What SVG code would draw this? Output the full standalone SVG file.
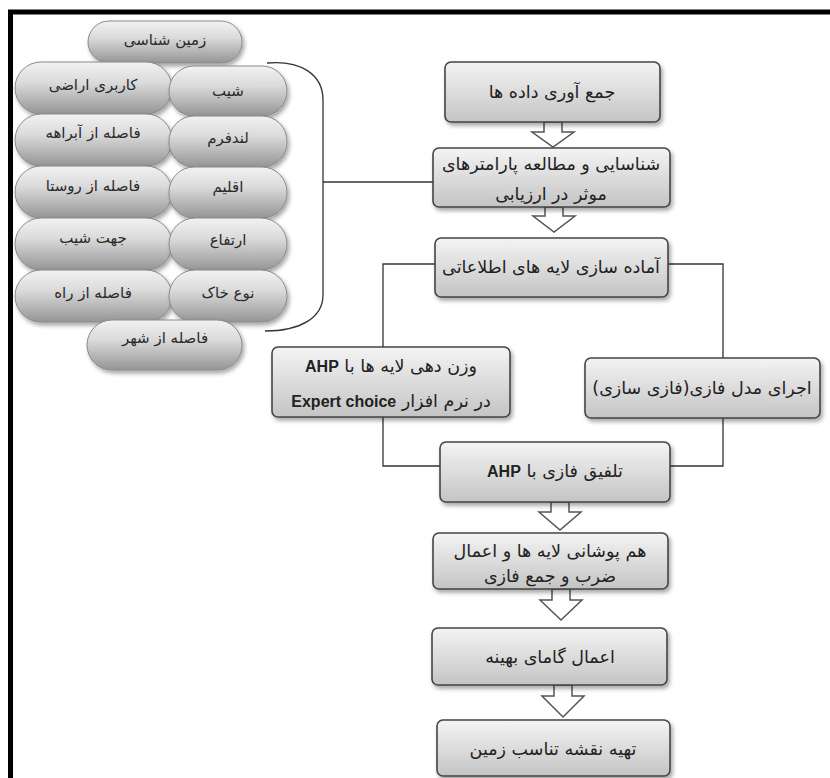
<svg xmlns="http://www.w3.org/2000/svg" width="830" height="778" viewBox="0 0 830 778">
<defs>
<linearGradient id="gBox" x1="0" y1="0" x2="0" y2="1">
<stop offset="0" stop-color="#f4f4f4"/>
<stop offset="1" stop-color="#c4c4c4"/>
</linearGradient>
<linearGradient id="gPill" x1="0" y1="0" x2="0" y2="1">
<stop offset="0" stop-color="#f2f2f2"/>
<stop offset="0.4" stop-color="#dadada"/>
<stop offset="1" stop-color="#959595"/>
</linearGradient>
<filter id="sh" x="-10%" y="-10%" width="130%" height="140%">
<feDropShadow dx="2" dy="3" stdDeviation="2" flood-color="#000" flood-opacity="0.35"/>
</filter>
</defs>
<style>
.box{fill:url(#gBox);stroke:#444;stroke-width:1.6;filter:url(#sh)}
.pill{fill:url(#gPill);stroke:#8a8a8a;stroke-width:1;filter:url(#sh)}
.t{font-family:"DejaVu Sans",sans-serif;font-size:17.5px;fill:#222;text-anchor:middle;direction:rtl}
.tp{font-family:"DejaVu Sans",sans-serif;font-size:15px;fill:#2a2a2a;text-anchor:middle;direction:rtl}
.b{font-family:"Liberation Sans",sans-serif;font-weight:bold;font-size:16px}
.ln{fill:none;stroke:#333;stroke-width:1.3}
.arr{fill:#fff;stroke:#555;stroke-width:1.5}
</style>
<rect x="0" y="0" width="830" height="778" fill="#fff"/>
<path d="M10.5 778 V12 H830" fill="none" stroke="#000" stroke-width="5"/>

<g id="factors">
<g id="p-zamin"><rect class="pill" x="88" y="21" width="154" height="42" rx="21"/><text class="tp" x="165" y="45">زمین شناسی</text></g>
<g id="p-karbari"><rect class="pill" x="15" y="62" width="157" height="52" rx="26"/><text class="tp" x="93" y="90">کاربری اراضی</text></g>
<g id="p-abraheh"><rect class="pill" x="15" y="114" width="157" height="52" rx="26"/><text class="tp" x="93" y="138">فاصله از آبراهه</text></g>
<g id="p-rousta"><rect class="pill" x="15" y="166" width="157" height="52" rx="26"/><text class="tp" x="93" y="191">فاصله از روستا</text></g>
<g id="p-jahat"><rect class="pill" x="15" y="218" width="157" height="52" rx="26"/><text class="tp" x="93" y="243">جهت شیب</text></g>
<g id="p-rah"><rect class="pill" x="15" y="270" width="157" height="52" rx="26"/><text class="tp" x="93" y="298">فاصله از راه</text></g>
<g id="p-shib"><rect class="pill" x="169" y="66" width="118" height="50" rx="25"/><text class="tp" x="228" y="96">شیب</text></g>
<g id="p-landform"><rect class="pill" x="169" y="116" width="118" height="51" rx="25"/><text class="tp" x="228" y="143">لندفرم</text></g>
<g id="p-eghlim"><rect class="pill" x="169" y="167" width="118" height="51" rx="25"/><text class="tp" x="228" y="192">اقلیم</text></g>
<g id="p-ertefa"><rect class="pill" x="169" y="218" width="118" height="52" rx="26"/><text class="tp" x="228" y="245">ارتفاع</text></g>
<g id="p-khak"><rect class="pill" x="169" y="270" width="118" height="52" rx="26"/><text class="tp" x="228" y="298">نوع خاک</text></g>
<g id="p-shahr"><rect class="pill" x="87" y="320" width="155" height="50" rx="25"/><text class="tp" x="165" y="343">فاصله از شهر</text></g>
</g>

<g id="connectors">
<path class="ln" d="M267 63 C300 60 323 74 323 100 V295 C323 318 300 331 265 331"/>
<path class="ln" d="M323 182 H433"/>
<path class="ln" d="M435 264 H383 V347"/>
<path class="ln" d="M668 264 H723 V358"/>
<path class="ln" d="M383 417 V466 H440"/>
<path class="ln" d="M723 418 V466 H670"/>
<path class="arr" d="M544 122 H562 V132 H574 L553 147 L532 132 H544 Z"/>
<path class="arr" d="M545 207 H563 V216 H575 L554 232 L533 216 H545 Z"/>
<path class="arr" d="M551 502 H569 V512 H581 L560 530 L539 512 H551 Z"/>
<path class="arr" d="M552 589 H570 V600 H582 L561 620 L540 600 H552 Z"/>
<path class="arr" d="M554 685 H572 V696 H584 L563 717 L542 696 H554 Z"/>
</g>

<g id="n1"><rect class="box" x="445" y="62" width="215" height="60" rx="6"/><text class="t" x="552" y="98">جمع آوری داده ها</text></g>
<g id="n2"><rect class="box" x="433" y="148" width="237" height="59" rx="6"/><text class="t" x="551" y="170">شناسایی و مطالعه پارامترهای</text><text class="t" x="551" y="200">موثر در ارزیابی</text></g>
<g id="n3"><rect class="box" x="435" y="238" width="233" height="59" rx="6"/><text class="t" x="551" y="273">آماده سازی لایه های اطلاعاتی</text></g>
<g id="n4"><rect class="box" x="272" y="347" width="238" height="70" rx="6"/><text class="t" x="391" y="372">وزن دهی لایه ها با <tspan class="b">AHP</tspan></text><text class="t" x="391" y="407">در نرم افزار <tspan class="b">Expert choice</tspan></text></g>
<g id="n5"><rect class="box" x="585" y="358" width="235" height="60" rx="6"/><text class="t" x="702" y="394">اجرای مدل فازی(فازی سازی)</text></g>
<g id="n6"><rect class="box" x="440" y="442" width="230" height="60" rx="6"/><text class="t" x="555" y="477">تلفیق فازی با <tspan class="b">AHP</tspan></text></g>
<g id="n7"><rect class="box" x="433" y="533" width="235" height="56" rx="6"/><text class="t" x="550" y="557">هم پوشانی لایه ها و اعمال</text><text class="t" x="550" y="582">ضرب و جمع فازی</text></g>
<g id="n8"><rect class="box" x="432" y="628" width="235" height="57" rx="6"/><text class="t" x="550" y="663">اعمال گامای بهینه</text></g>
<g id="n9"><rect class="box" x="437" y="720" width="233" height="56" rx="6"/><text class="t" x="553" y="755">تهیه نقشه تناسب زمین</text></g>
</svg>
